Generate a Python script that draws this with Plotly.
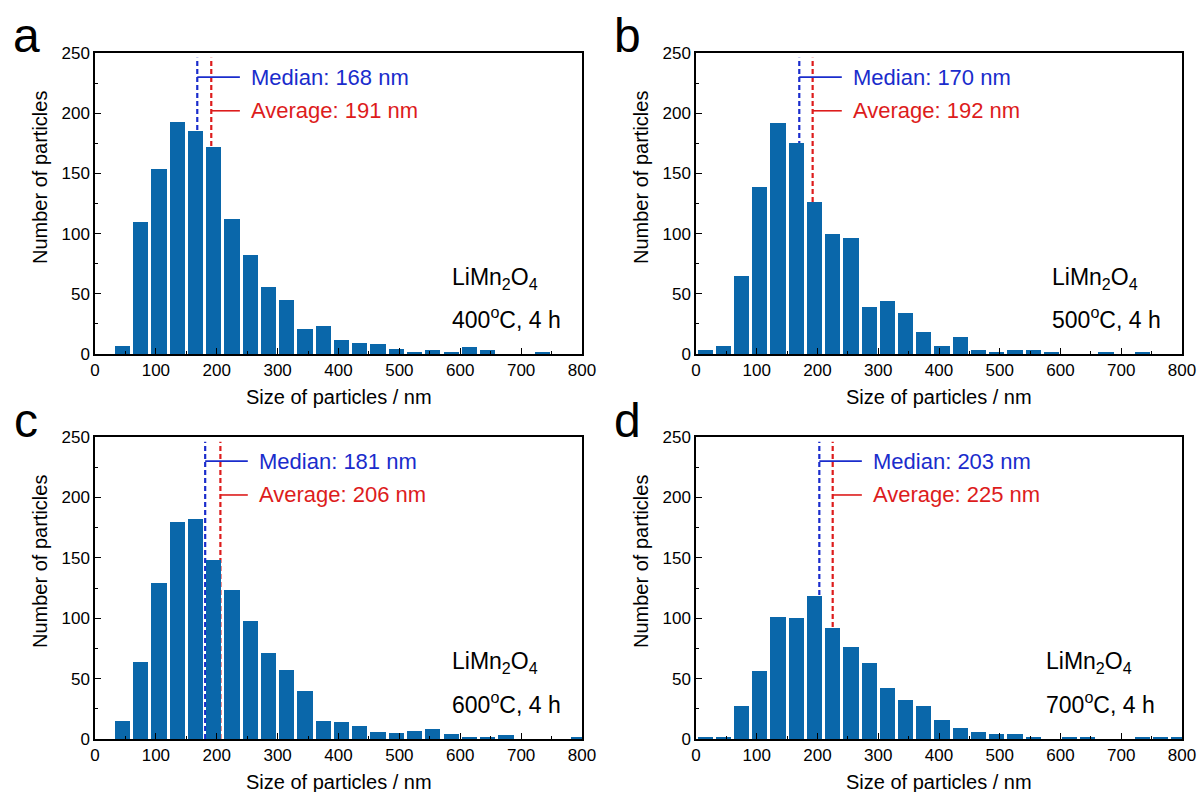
import plotly.graph_objects as go

# ---------------- data ----------------
bin_centers = [15, 45, 75, 105, 135, 165, 195, 225, 255, 285, 315, 345, 375, 405,
               435, 465, 495, 525, 555, 585, 615, 645, 675, 705, 735, 765, 795]
counts_400 = [0, 7, 110, 154, 193, 185, 172, 112, 82, 56, 45, 21, 23, 12,
              9, 8, 4, 2, 3, 1, 6, 3, 0, 0, 1, 0, 0]
counts_500 = [3, 7, 65, 139, 192, 175, 126, 100, 96, 39, 44, 34, 18, 7,
              14, 3, 1, 3, 3, 1, 0, 0, 2, 0, 1, 0, 0]
counts_600 = [0, 15, 64, 129, 180, 182, 148, 123, 98, 71, 57, 40, 15, 14,
              11, 6, 5, 7, 8, 4, 2, 1, 3, 0, 0, 0, 1]
counts_700 = [1, 1, 27, 56, 101, 100, 118, 92, 76, 63, 42, 32, 27, 16,
              9, 6, 4, 4, 1, 0, 1, 1, 0, 0, 1, 1, 1]
medians = [168, 170, 181, 203]
averages = [191, 192, 206, 225]
temperatures = ["400", "500", "600", "700"]
panel_letters = ["a", "b", "c", "d"]
x_tick_vals = [0, 100, 200, 300, 400, 500, 600, 700, 800]
y_tick_vals = [0, 50, 100, 150, 200, 250]

all_counts = [counts_400, counts_500, counts_600, counts_700]

# ---------------- layout geometry ----------------
W, H = 1198, 792
FONT = "Liberation Sans, Arial, sans-serif"
BAR_COLOR = "#0a67aa"
BLUE = "#1a2ccc"
RED = "#dd1c1c"

# pixel boxes of the four plot areas (left, right, top, bottom)
boxes = [(95, 582, 53, 354), (696, 1182, 53, 354),
         (95, 582, 437, 739), (696, 1182, 437, 739)]

def px_x(p):
    return p / W

def px_y(p):
    return 1 - p / H

fig = go.Figure()
layout = dict(
    width=W, height=H,
    margin=dict(l=0, r=0, t=0, b=0, pad=0, autoexpand=False),
    paper_bgcolor="white", plot_bgcolor="white",
    showlegend=False,
    font=dict(family=FONT, color="black", size=17),
)
annotations = []
shapes = []

for i in range(4):
    sfx = "" if i == 0 else str(i + 1)
    xa, ya = "x" + sfx, "y" + sfx
    l, r, t, b = boxes[i]

    fig.add_trace(go.Bar(
        x=bin_centers, y=all_counts[i], width=25,
        marker=dict(color=BAR_COLOR, line=dict(width=0)),
        xaxis=xa, yaxis=ya, hoverinfo="x+y",
    ))

    axis_common = dict(
        showline=True, linecolor="black", linewidth=1.5, mirror=True,
        ticks="inside", ticklen=6, tickwidth=1.2, tickcolor="black",
        showgrid=False, zeroline=False, automargin=False,
        tickfont=dict(family=FONT, size=17, color="black"),
    )
    layout["xaxis" + sfx] = dict(
        axis_common, domain=[px_x(l), px_x(r)], range=[0, 800],
        tickvals=x_tick_vals, anchor=ya,
        minor=dict(ticks="inside", dtick=50, tick0=0, ticklen=3.5,
                   tickwidth=1.2, tickcolor="black"),
    )
    layout["yaxis" + sfx] = dict(
        axis_common, domain=[px_y(b), px_y(t)], range=[0, 250],
        tickvals=y_tick_vals, anchor=xa,
        minor=dict(ticks="inside", dtick=25, tick0=0, ticklen=3.5,
                   tickwidth=1.2, tickcolor="black"),
    )

    med, avg = medians[i], averages[i]
    # dashed vertical lines (behind bars)
    for val, col in ((med, BLUE), (avg, RED)):
        shapes.append(dict(type="line", xref=xa, yref=ya, x0=val, x1=val,
                           y0=0, y1=246, layer="below",
                           line=dict(color=col, width=2.2, dash="5px,3px")))
    # connectors
    shapes.append(dict(type="line", xref=xa, yref=ya, x0=med, x1=med + 70,
                       y0=230, y1=230, line=dict(color=BLUE, width=1.6)))
    shapes.append(dict(type="line", xref=xa, yref=ya, x0=avg, x1=med + 70,
                       y0=202, y1=202, line=dict(color=RED, width=1.6)))
    annotations.append(dict(xref=xa, yref=ya, x=med + 85, y=230,
                            text=f"Median: {med} nm", showarrow=False,
                            xanchor="left", yanchor="middle",
                            font=dict(family=FONT, size=22, color=BLUE)))
    annotations.append(dict(xref=xa, yref=ya, x=med + 85, y=202,
                            text=f"Average: {avg} nm", showarrow=False,
                            xanchor="left", yanchor="middle",
                            font=dict(family=FONT, size=22, color=RED)))
    # sample label
    annotations.append(dict(xref=xa, yref=ya, x=583 if i < 3 else 573, y=63,
                            text="LiMn<sub>2</sub>O<sub>4</sub>", showarrow=False,
                            xanchor="left", yanchor="middle",
                            font=dict(family=FONT, size=23, color="black")))
    annotations.append(dict(xref=xa, yref=ya, x=583 if i < 3 else 573, y=30,
                            text=f"{temperatures[i]}<sup>o</sup>C, 4 h",
                            showarrow=False, xanchor="left", yanchor="middle",
                            font=dict(family=FONT, size=23, color="black")))
    # axis titles
    annotations.append(dict(xref="paper", yref="paper",
                            x=px_x((l + r) / 2), y=px_y(b + 43),
                            text="Size of particles / nm", showarrow=False,
                            xanchor="center", yanchor="middle",
                            font=dict(family=FONT, size=20, color="black")))
    annotations.append(dict(xref="paper", yref="paper",
                            x=px_x(l - 55), y=px_y(t + 125),
                            text="Number of particles", showarrow=False,
                            textangle=-90, xanchor="center", yanchor="middle",
                            font=dict(family=FONT, size=20, color="black")))
    # panel letter
    annotations.append(dict(xref="paper", yref="paper",
                            x=px_x(l - 69), y=px_y(t - 17),
                            text=panel_letters[i], showarrow=False,
                            xanchor="center", yanchor="middle",
                            font=dict(family=FONT, size=48, color="black")))

layout["annotations"] = annotations
layout["shapes"] = shapes
layout["bargap"] = 0
fig.update_layout(**layout)
fig.write_html("out.html")
